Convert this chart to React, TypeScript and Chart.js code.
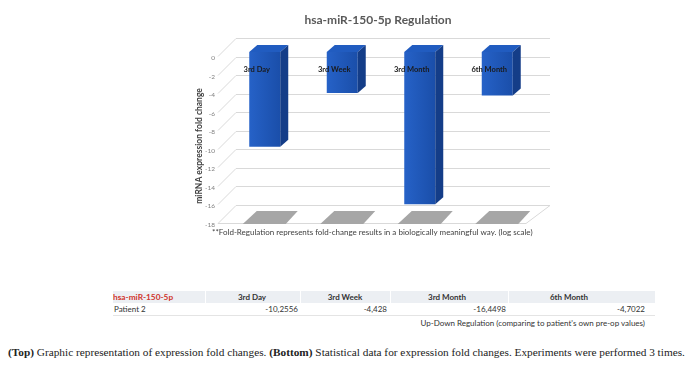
import React, { useEffect, useRef } from "react";
import { Chart, registerables } from "chart.js";

Chart.register(...registerables);

const categories = ["3rd Day", "3rd Week", "3rd Month", "6th Month"];
const foldValues = [-10.2556, -4.428, -16.4498, -4.7022];
const tableValues = ["-10,2556", "-4,428", "-16,4498", "-4,7022"];
const yTicks = [0, -2, -4, -6, -8, -10, -12, -14, -16, -18];
const chartTitle = "hsa-miR-150-5p Regulation";
const yTitle = "miRNA expression fold change";
const footnote = "**Fold-Regulation represents fold-change results in a biologically meaningful way. (log scale)";
const rowLabel = "Patient 2";
const tableNote = "Up-Down Regulation (comparing to patient's own pre-op values)";

const decorPlugin = {
  id: "decor3d",
  beforeDatasetsDraw(chart: any) {
    const ctx = chart.ctx;
    const ys = chart.scales.y;
    const xs = chart.scales.x;
    const { left: L, right: R } = chart.chartArea;
    ctx.save();
    ctx.strokeStyle = "#d9d9d9";
    ctx.lineWidth = 1;
    yTicks.forEach((v) => {
      const f = Math.round(ys.getPixelForValue(v)) + 0.5;
      ctx.beginPath();
      ctx.moveTo(L - 8, f + 4);
      ctx.lineTo(L + 10, f - 14);
      ctx.lineTo(R + 14, f - 14);
      ctx.stroke();
    });
    const f18 = Math.round(ys.getPixelForValue(-18)) + 0.5;
    ctx.beginPath();
    ctx.moveTo(L - 8, f18 + 4);
    ctx.lineTo(R - 10, f18 + 4);
    ctx.lineTo(R + 14, f18 - 14);
    ctx.stroke();
    ctx.fillStyle = "#a6a6a6";
    categories.forEach((_, i) => {
      const c = xs.getPixelForValue(i);
      ctx.beginPath();
      ctx.moveTo(c - 22, f18 + 4.5);
      ctx.lineTo(c + 21, f18 + 4.5);
      ctx.lineTo(c + 33, f18 - 8.5);
      ctx.lineTo(c - 8, f18 - 8.5);
      ctx.closePath();
      ctx.fill();
    });
    ctx.restore();
  },
  afterDatasetsDraw(chart: any) {
    const ctx = chart.ctx;
    const meta = chart.getDatasetMeta(0);
    const dx = 8;
    const dy = 7;
    ctx.save();
    meta.data.forEach((bar: any, i: number) => {
      const p = bar.getProps(["x", "y", "base", "width"], true);
      const l = p.x - p.width / 2;
      const r = p.x + p.width / 2;
      const top = Math.min(p.y, p.base);
      const bot = Math.max(p.y, p.base);
      ctx.fillStyle = "#215cc0";
      ctx.beginPath();
      ctx.moveTo(l, top);
      ctx.lineTo(r, top);
      ctx.lineTo(r + dx, top - dy);
      ctx.lineTo(l + dx, top - dy);
      ctx.closePath();
      ctx.fill();
      ctx.fillStyle = "#143d88";
      ctx.beginPath();
      ctx.moveTo(r, top);
      ctx.lineTo(r + dx, top - dy);
      ctx.lineTo(r + dx, bot - dy);
      ctx.lineTo(r, bot);
      ctx.closePath();
      ctx.fill();
      ctx.fillStyle = "#1a1a1a";
      ctx.font = "bold 7.5px Lato";
      ctx.textAlign = "center";
      ctx.textBaseline = "middle";
      ctx.fillText(categories[i], p.x - 8, top + 18);
    });
    ctx.restore();
  },
  afterDraw(chart: any) {
    const ctx = chart.ctx;
    ctx.save();
    ctx.fillStyle = "#595959";
    ctx.font = "bold 12px Lato";
    ctx.textAlign = "center";
    ctx.textBaseline = "middle";
    ctx.fillText(chartTitle, 378, 20);
    ctx.fillStyle = "#404040";
    ctx.font = "8px Lato";
    ctx.textAlign = "left";
    ctx.fillText(footnote, 212, 232);
    ctx.translate(199, 146);
    ctx.rotate(-Math.PI / 2);
    ctx.font = "bold 8.5px Lato";
    ctx.textAlign = "center";
    ctx.fillText(yTitle, 0, 0);
    ctx.restore();
  },
};

function ChartCanvas() {
  const ref = useRef<HTMLCanvasElement | null>(null);
  useEffect(() => {
    if (!ref.current) return;
    const chart = new Chart(ref.current, {
      type: "bar",
      data: {
        labels: categories,
        datasets: [
          {
            data: foldValues,
            backgroundColor: (c: any) => {
              const ch = c.chart;
              if (!ch.chartArea) return "#1f5bbf";
              const cx = ch.scales.x.getPixelForValue(c.dataIndex);
              const g = ch.ctx.createLinearGradient(cx - 16, 0, cx + 16, 0);
              g.addColorStop(0, "#2662c8");
              g.addColorStop(1, "#1a4ea9");
              return g;
            },
            borderWidth: 0,
            barPercentage: 0.4,
            categoryPercentage: 1,
          },
        ],
      },
      options: {
        responsive: false,
        animation: false,
        layout: { padding: { left: 0, right: 162, top: 52, bottom: 26.5 } },
        plugins: { legend: { display: false }, title: { display: false }, tooltip: { enabled: false } },
        scales: {
          x: { display: false },
          y: {
            min: -18,
            max: 0,
            afterFit: (s: any) => {
              s.width = 226;
            },
            ticks: {
              stepSize: 2,
              labelOffset: 6,
              padding: 11,
              color: "#808080",
              font: { family: "Lato", size: 6.5 },
            },
            grid: { display: false, drawTicks: false },
            border: { display: false },
          },
        },
      },
      plugins: [decorPlugin],
    });
    return () => chart.destroy();
  }, []);
  return <canvas ref={ref} width={698} height={245} style={{ display: "block", position: "absolute", left: 0, top: 0 }} />;
}

const abs = (left: number, top: number, extra: any = {}) => ({ position: "absolute" as const, left, top, ...extra });

export default function App() {
  const headerCenters = [252, 345, 447, 569];
  const valueEnds = [298, 387, 506, 645];
  const font = "Lato, sans-serif";
  const fs = 8;
  return (
    <div style={{ position: "absolute", left: 0, top: 0, width: 698, height: 370, background: "#fff", overflow: "hidden" }}>
      <ChartCanvas />
      <div style={abs(113, 291, { width: 542, height: 12, background: "#eceff3" })} />
      {[205, 300, 390, 508].map((x) => (
        <div key={x} style={abs(x, 291, { width: 1, height: 12, background: "#ffffff" })} />
      ))}
      <div style={abs(113, 315, { width: 542, height: 1, background: "#e4e4e4" })} />
      <div style={abs(113, 291, { height: 12, lineHeight: "12px", fontFamily: font, fontSize: 8.3, fontWeight: 700, color: "#d0342c", whiteSpace: "nowrap" })}>
        hsa-miR-150-5p
      </div>
      {categories.map((c, i) => (
        <div key={c} style={abs(headerCenters[i] - 50, 291, { width: 100, textAlign: "center", height: 12, lineHeight: "12px", fontFamily: font, fontSize: fs, fontWeight: 700, color: "#333", whiteSpace: "nowrap" })}>
          {c}
        </div>
      ))}
      <div style={abs(114, 303, { height: 12, lineHeight: "12px", fontFamily: font, fontSize: fs, color: "#333", whiteSpace: "nowrap" })}>
        {rowLabel}
      </div>
      {tableValues.map((v, i) => (
        <div key={i} style={abs(valueEnds[i] - 100, 303, { width: 100, textAlign: "right", height: 12, lineHeight: "12px", fontFamily: font, fontSize: fs, color: "#333", whiteSpace: "nowrap" })}>
          {v}
        </div>
      ))}
      <div style={abs(345, 317, { width: 300, textAlign: "right", height: 12, lineHeight: "12px", fontFamily: font, fontSize: fs, color: "#333", whiteSpace: "nowrap" })}>
        {tableNote}
      </div>
      <div style={abs(8, 345, { height: 14, lineHeight: "14px", fontFamily: "'Liberation Serif', serif", fontSize: 11.3, color: "#222", whiteSpace: "nowrap" })}>
        <b>(Top)</b> Graphic representation of expression fold changes. <b>(Bottom)</b> Statistical data for expression fold changes. Experiments were performed 3 times.
      </div>
    </div>
  );
}
